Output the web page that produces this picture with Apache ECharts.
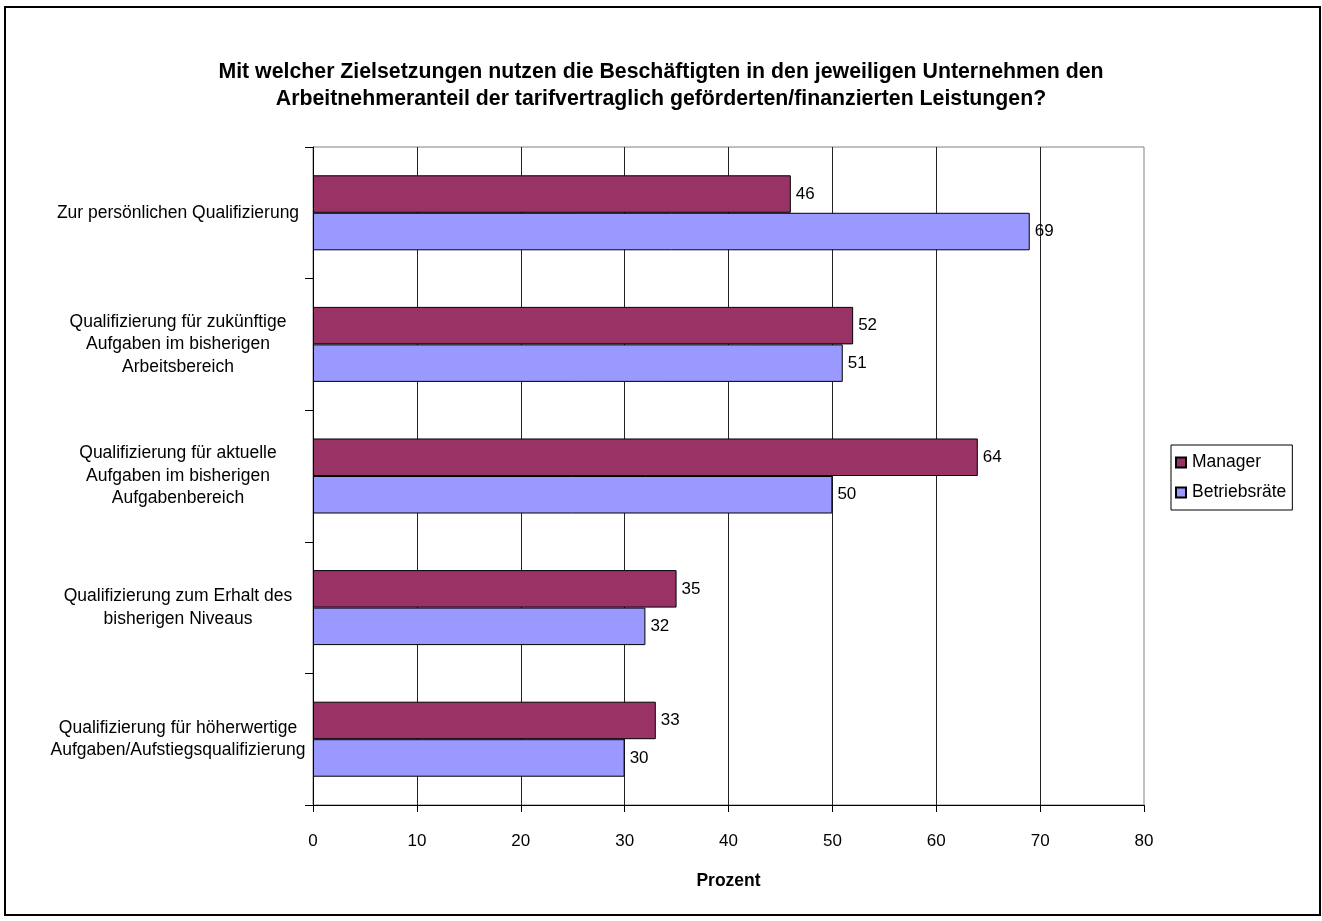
<!DOCTYPE html>
<html>
<head>
<meta charset="utf-8">
<script src="https://cdn.jsdelivr.net/npm/echarts@6/dist/echarts.min.js"></script>
<style>html,body{margin:0;padding:0;background:#fff}#c{width:1322px;height:921px}</style>
</head>
<body>
<div id="c"></div>
<script>
const categories = [
  "Zur persönlichen Qualifizierung",
  "Qualifizierung für zukünftige\nAufgaben im bisherigen\nArbeitsbereich",
  "Qualifizierung für aktuelle\nAufgaben im bisherigen\nAufgabenbereich",
  "Qualifizierung zum Erhalt des\nbisherigen Niveaus",
  "Qualifizierung für höherwertige\nAufgaben/Aufstiegsqualifizierung"
];
const managerValues = [46, 52, 64, 35, 33];
const betriebsraeteValues = [69, 51, 50, 32, 30];
const seriesNames = ["Manager", "Betriebsräte"];
const titleText = "Mit welcher Zielsetzungen nutzen die Beschäftigten in den jeweiligen Unternehmen den\nArbeitnehmeranteil der tarifvertraglich geförderten/finanzierten Leistungen?";
const xAxisName = "Prozent";

const FONT = "Liberation Sans, Arial, sans-serif";
const chart = echarts.init(document.getElementById('c'), null, {renderer: 'canvas'});
const labelCfg = {show: true, position: 'right', distance: 5, color: '#000', fontSize: 17, fontFamily: FONT};
chart.setOption({
  animation: false,
  backgroundColor: '#fff',
  graphic: [{
    type: 'rect', shape: {x: 5, y: 7, width: 1315, height: 908},
    style: {fill: 'none', stroke: '#000', lineWidth: 2}, silent: true
  }],
  title: {
    text: titleText, left: 'center', top: 54,
    textStyle: {fontFamily: FONT, fontSize: 21.3, fontWeight: 'bold', color: '#000', lineHeight: 27, align: 'center'}
  },
  legend: {
    orient: 'vertical', left: 1171, top: 445,
    data: seriesNames,
    borderColor: '#000', borderWidth: 1, padding: [8, 6, 8, 4],
    itemWidth: 10, itemHeight: 10, itemGap: 11,
    icon: 'rect',
    textStyle: {fontFamily: FONT, fontSize: 17.5, color: '#000', lineHeight: 19, padding: [0, 0, 0, 1]}
  },
  grid: {left: 313, right: 178, top: 147, bottom: 116, show: true, borderColor: '#808080', borderWidth: 1, containLabel: false},
  xAxis: {
    type: 'value', min: 0, max: 80, interval: 10,
    name: xAxisName, nameLocation: 'middle', nameGap: 67,
    nameTextStyle: {fontFamily: FONT, fontSize: 17.5, fontWeight: 'bold', color: '#000'},
    axisLine: {show: true, lineStyle: {color: '#000', width: 1}},
    axisTick: {show: true, length: 7, lineStyle: {color: '#000'}},
    axisLabel: {fontFamily: FONT, fontSize: 17, color: '#000', margin: 28},
    splitLine: {show: true, showMinLine: false, showMaxLine: false, lineStyle: {color: '#222', width: 1}}
  },
  yAxis: {
    type: 'category', data: categories, inverse: true,
    axisLine: {show: true, lineStyle: {color: '#000', width: 1}},
    axisTick: {show: true, length: 8, alignWithLabel: false, lineStyle: {color: '#000'}},
    axisLabel: {fontFamily: FONT, fontSize: 17.5, color: '#000', align: 'center', margin: 135, lineHeight: 22.5}
  },
  series: [
    {name: seriesNames[0], type: 'bar', data: managerValues, barGap: '0%', barCategoryGap: '43%',
     itemStyle: {color: '#993366', borderColor: '#000', borderWidth: 1}, label: labelCfg},
    {name: seriesNames[1], type: 'bar', data: betriebsraeteValues, barGap: '0%', barCategoryGap: '43%',
     itemStyle: {color: '#9999FF', borderColor: '#000', borderWidth: 1}, label: labelCfg}
  ]
});
</script>
</body>
</html>
